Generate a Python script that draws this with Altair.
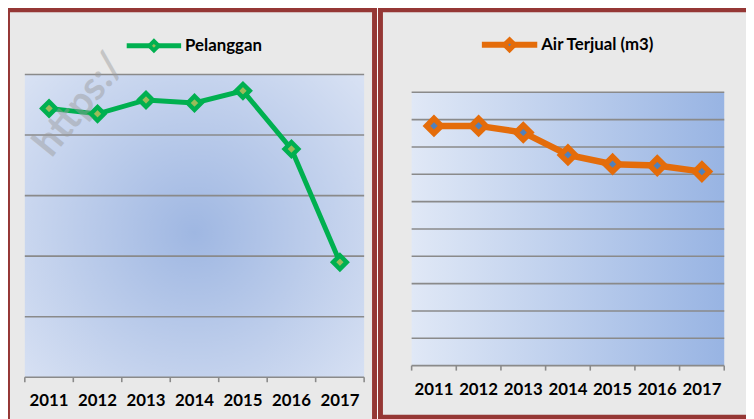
import altair as alt
import pandas as pd

# ---- data ----
years = [2011, 2012, 2013, 2014, 2015, 2016, 2017]
pelanggan = [4.44, 4.35, 4.58, 4.53, 4.73, 3.77, 1.90]
air_terjual = [8.77, 8.77, 8.53, 7.71, 7.37, 7.32, 7.10]
grid_left = [0, 1, 2, 3, 4, 5]
grid_right = [0, 1, 2, 3, 4, 5, 6, 7, 8, 9, 10]
legend_left = "Pelanggan"
legend_right = "Air Terjual (m3)"

labels = [str(y) for y in years]
edges = [y - 0.5 for y in years] + [years[-1] + 0.5]

df_left = pd.DataFrame({"year": years, "v": pelanggan, "label": labels})
df_right = pd.DataFrame({"year": years, "v": air_terjual, "label": labels})
df_edges = pd.DataFrame({"e": edges})
df_gl = pd.DataFrame({"g": grid_left})
df_gr = pd.DataFrame({"g": grid_right})
one = pd.DataFrame({"k": [0]})

FONT = "Lato"
GREEN = "#00b050"
OLIVE = "#9bbb59"
ORANGE = "#e46c0a"
BLUE = "#4f81bd"
RED = "#953735"
PANEL = "#e9e9e9"
GRID = "#8a8a8a"

# plot rectangles (chart coordinates)
L = dict(x0=17, x1=360, y0=65, y1=371)
R = dict(x0=408, x1=724, y0=83, y1=359.3)


def xs(p):
    return alt.Scale(domain=[2010.5, 2017.5], range=[p["x0"], p["x1"]], nice=False, zero=False)


def ys(p, top):
    return alt.Scale(domain=[0, top], range=[p["y1"], p["y0"]], nice=False, zero=False)


layers = []

# panel backgrounds with dark red borders
layers.append(alt.Chart(one).mark_rect(fill=PANEL, stroke=RED, strokeWidth=5).encode(
    x=alt.value(-0.5), x2=alt.value(370.5), y=alt.value(-0.5), y2=alt.value(440)))
layers.append(alt.Chart(one).mark_rect(fill=PANEL, stroke=RED, strokeWidth=5).encode(
    x=alt.value(376.5), x2=alt.value(800), y=alt.value(-0.5), y2=alt.value(411.5)))

# plot area gradients
radial = {"gradient": "radial", "x1": 0.5, "y1": 0.52, "r1": 0, "x2": 0.5, "y2": 0.52, "r2": 0.78,
          "stops": [{"offset": 0, "color": "#9fb7e2"}, {"offset": 1, "color": "#e1e8f6"}]}
linear = {"gradient": "linear", "x1": 0, "y1": 0, "x2": 1, "y2": 0,
          "stops": [{"offset": 0, "color": "#e0e8f6"}, {"offset": 1, "color": "#98b4e3"}]}
layers.append(alt.Chart(one).mark_rect(fill=radial).encode(
    x=alt.value(L["x0"]), x2=alt.value(L["x1"]), y=alt.value(L["y0"]), y2=alt.value(L["y1"])))
layers.append(alt.Chart(one).mark_rect(fill=linear).encode(
    x=alt.value(R["x0"]), x2=alt.value(R["x1"]), y=alt.value(R["y0"]), y2=alt.value(R["y1"])))

# grid lines
layers.append(alt.Chart(df_gl).mark_rule(color=GRID, strokeWidth=1.6).encode(
    y=alt.Y("g:Q", scale=ys(L, 5), axis=None), x=alt.value(L["x0"]), x2=alt.value(L["x1"])))
layers.append(alt.Chart(df_gr).mark_rule(color=GRID, strokeWidth=1.6).encode(
    y=alt.Y("g:Q", scale=ys(R, 10), axis=None), x=alt.value(R["x0"]), x2=alt.value(R["x1"])))

# tick marks
layers.append(alt.Chart(df_edges).mark_rule(color=GRID, strokeWidth=1.6).encode(
    x=alt.X("e:Q", scale=xs(L), axis=None), y=alt.value(L["y1"]), y2=alt.value(L["y1"] + 5)))
layers.append(alt.Chart(df_edges).mark_rule(color=GRID, strokeWidth=1.6).encode(
    x=alt.X("e:Q", scale=xs(R), axis=None), y=alt.value(R["y1"]), y2=alt.value(R["y1"] + 5)))

# year labels
layers.append(alt.Chart(df_left).mark_text(font=FONT, fontSize=17, fontWeight="bold", color="#000",
                                           baseline="middle").encode(
    x=alt.X("year:Q", scale=xs(L), axis=None), y=alt.value(395), text="label:N"))
layers.append(alt.Chart(df_right).mark_text(font=FONT, fontSize=17, fontWeight="bold", color="#000",
                                            baseline="middle").encode(
    x=alt.X("year:Q", scale=xs(R), axis=None), y=alt.value(384), text="label:N"))

# series lines and markers
layers.append(alt.Chart(df_left).mark_line(color=GREEN, strokeWidth=5).encode(
    x=alt.X("year:Q", scale=xs(L), axis=None), y=alt.Y("v:Q", scale=ys(L, 5), axis=None)))
layers.append(alt.Chart(df_left).mark_point(shape="diamond", filled=True, fill=OLIVE, stroke=GREEN,
                                            strokeWidth=4.5, size=190, opacity=1).encode(
    x=alt.X("year:Q", scale=xs(L), axis=None), y=alt.Y("v:Q", scale=ys(L, 5), axis=None)))
layers.append(alt.Chart(df_right).mark_line(color=ORANGE, strokeWidth=6.5).encode(
    x=alt.X("year:Q", scale=xs(R), axis=None), y=alt.Y("v:Q", scale=ys(R, 10), axis=None)))
layers.append(alt.Chart(df_right).mark_point(shape="diamond", filled=True, fill=BLUE, stroke=ORANGE,
                                             strokeWidth=5.5, size=230, opacity=1).encode(
    x=alt.X("year:Q", scale=xs(R), axis=None), y=alt.Y("v:Q", scale=ys(R, 10), axis=None)))

# legends
layers.append(alt.Chart(one).mark_rule(color=GREEN, strokeWidth=5).encode(
    x=alt.value(120), x2=alt.value(175), y=alt.value(36)))
layers.append(alt.Chart(one).mark_point(shape="diamond", filled=True, fill=OLIVE, stroke=GREEN,
                                        strokeWidth=4, size=90, opacity=1).encode(
    x=alt.value(147.5), y=alt.value(36)))
layers.append(alt.Chart(one).mark_text(text=legend_left, font=FONT, fontSize=17, fontWeight="bold",
                                       color="#000", align="left", baseline="middle").encode(
    x=alt.value(179), y=alt.value(36)))
layers.append(alt.Chart(one).mark_rule(color=ORANGE, strokeWidth=6).encode(
    x=alt.value(479), x2=alt.value(535), y=alt.value(35)))
layers.append(alt.Chart(one).mark_point(shape="diamond", filled=True, fill=BLUE, stroke=ORANGE,
                                        strokeWidth=5, size=100, opacity=1).encode(
    x=alt.value(507), y=alt.value(35)))
layers.append(alt.Chart(one).mark_text(text=legend_right, font=FONT, fontSize=17, fontWeight="bold",
                                       color="#000", align="left", baseline="middle").encode(
    x=alt.value(539), y=alt.value(35)))

# faint watermark (kept fully inside the picture)
layers.append(alt.Chart(one).mark_text(text="https:/", font=FONT, fontSize=40, fontWeight="bold",
                                       color="#9a9a9a", opacity=0.45, align="left",
                                       baseline="alphabetic", angle=309).encode(
    x=alt.value(44), y=alt.value(150)))

chart = alt.layer(*layers).resolve_scale(x="independent", y="independent").properties(
    width=746, height=411, padding=0, autosize=alt.AutoSizeParams(type="none"),
    background="white"
).configure_view(stroke=None)

chart.save("out.html", embed_options={"renderer": "svg", "actions": False})
